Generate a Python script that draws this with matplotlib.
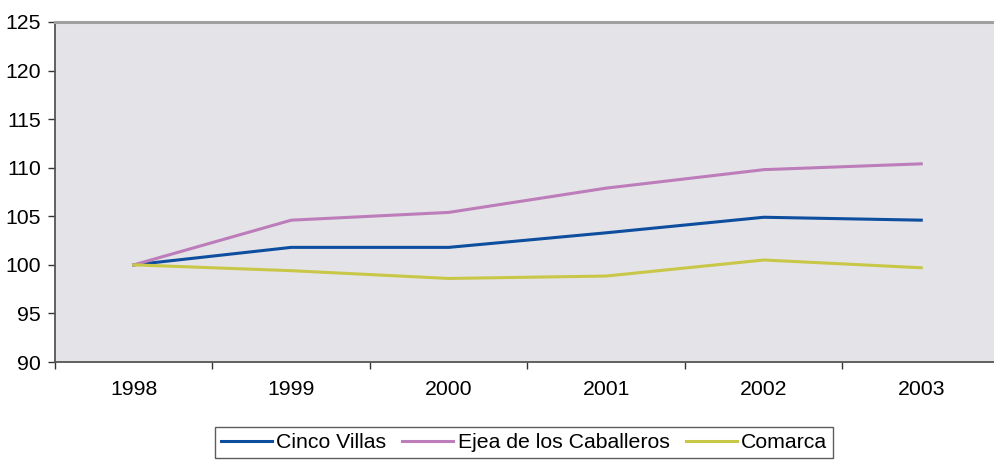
import matplotlib
matplotlib.use("Agg")
import matplotlib.pyplot as plt
from matplotlib.ticker import FixedLocator

plt.rcParams['font.family'] = ['Liberation Sans', 'DejaVu Sans']

years = ["1998", "1999", "2000", "2001", "2002", "2003"]
cinco_villas = [100.0, 101.8, 101.8, 103.3, 104.9, 104.6]
ejea = [100.0, 104.6, 105.4, 107.9, 109.8, 110.4]
comarca = [100.0, 99.4, 98.6, 98.85, 100.5, 99.7]
y_ticks = [90, 95, 100, 105, 110, 115, 120, 125]

FS = 15.3
fig = plt.figure(figsize=(9.95, 4.61), dpi=100)
ax = fig.add_axes([55/995, 1-362/461, 945/995, 340/461])
ax.set_facecolor('#E4E3E8')

x = list(range(len(years)))
ax.plot(x, cinco_villas, color='#0D4E9E', lw=2.2, label='Cinco Villas')
ax.plot(x, ejea, color='#BC7DBA', lw=2.2, label='Ejea de los Caballeros')
ax.plot(x, comarca, color='#C8C747', lw=2.2, label='Comarca')

ax.set_xlim(-0.5, len(years)-0.5)
ax.set_ylim(90, 125)
ax.set_yticks(y_ticks)
ax.set_yticklabels([str(v) for v in y_ticks], fontsize=FS)
ax.set_xticks(x)
ax.set_xticklabels(years, fontsize=FS)
ax.xaxis.set_minor_locator(FixedLocator([i - 0.5 for i in range(len(years)+1)]))
ax.tick_params(axis='x', which='major', length=0, pad=13)
ax.tick_params(axis='x', which='minor', length=5, width=1, color='#333333', direction='out')
ax.tick_params(axis='y', length=5, width=1, color='#333333', direction='out', pad=5)

for s in ['left', 'bottom']:
    ax.spines[s].set_color('#555555')
    ax.spines[s].set_linewidth(1.3)
ax.spines['top'].set_color('#A0A0A2')
ax.spines['top'].set_linewidth(2.2)
ax.spines['right'].set_visible(False)

leg = fig.legend(loc='center', bbox_to_anchor=(524/995, 1-442.5/461), ncol=3,
                 fontsize=FS, frameon=True, fancybox=False, handlelength=2.4,
                 handletextpad=0.2, columnspacing=0.75, borderpad=0.3,
                 borderaxespad=0)
leg.get_frame().set_edgecolor('#333333')
leg.get_frame().set_linewidth(1.0)

fig.savefig('out.png', dpi=100)
